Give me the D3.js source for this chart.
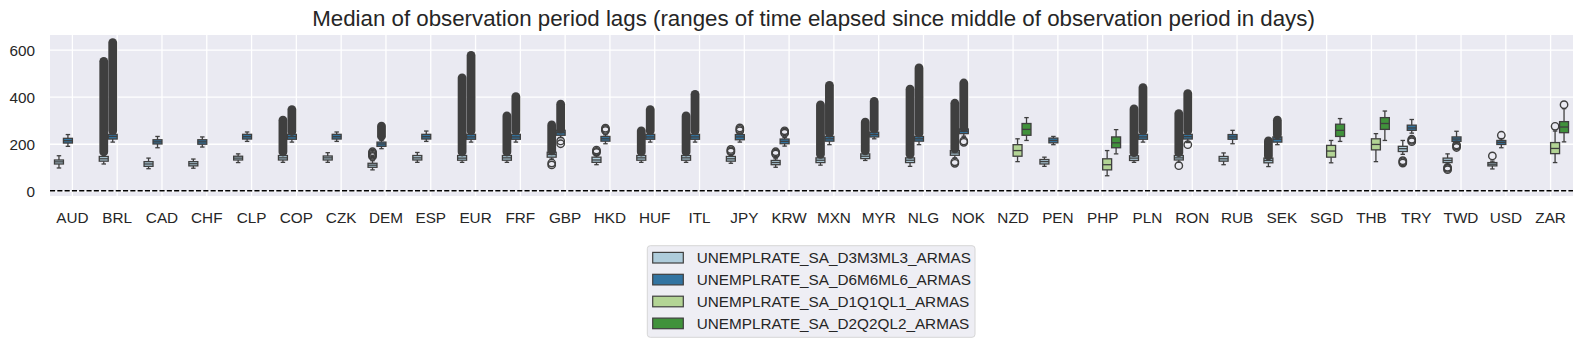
<!DOCTYPE html>
<html><head><meta charset="utf-8">
<script src="https://cdn.jsdelivr.net/npm/d3@7"></script>
<style>
body{margin:0;background:#fff;}
text{font-family:"Liberation Sans",Arial,sans-serif;fill:#262626;}
</style>
</head><body>
<svg id="c" width="1584" height="347"></svg>
<script>
const categories = ["AUD","BRL","CAD","CHF","CLP","COP","CZK","DEM","ESP","EUR","FRF","GBP","HKD","HUF","ITL","JPY","KRW","MXN","MYR","NLG","NOK","NZD","PEN","PHP","PLN","RON","RUB","SEK","SGD","THB","TRY","TWD","USD","ZAR"];
const seriesNames = ["UNEMPLRATE_SA_D3M3ML3_ARMAS","UNEMPLRATE_SA_D6M6ML6_ARMAS","UNEMPLRATE_SA_D1Q1QL1_ARMAS","UNEMPLRATE_SA_D2Q2QL2_ARMAS"];
const seriesColors = ["#aeccdb","#3274a1","#b3d495","#40923b"];
const yTicks = [0,200,400,600];
const titleText = "Median of observation period lags (ranges of time elapsed since middle of observation period in days)";

// box stats: [category, whiskerLow, q1, median, q3, whiskerHigh]
const boxesD3M3ML3 = [
 ["AUD",97,114,123,131,149],["BRL",114,126,136,146,158],["CAD",94,104,114,124,139],["CHF",96,106,115,124,135],
 ["CLP",120,131,139,147,157],["COP",121,131,140,150,160],["CZK",121,131,140,148,162],["DEM",89,100,109,117,128],
 ["ESP",121,131,140,150,163],["EUR",121,130,139,150,160],["FRF",121,130,140,150,160],["GBP",135,143,154,164,168],
 ["HKD",111,121,131,143,150],["HUF",121,130,140,150,160],["ITL",121,130,140,150,160],["JPY",117,126,136,146,152],
 ["KRW",100,111,120,129,136],["MXN",109,120,130,140,150],["MYR",129,137,147,157,165],["NLG",104,120,130,140,150],
 ["NOK",140,151,161,171,175],["PEN",104,114,124,133,143],["PLN",121,129,139,149,158],["RON",121,131,140,150,158],
 ["RUB",111,126,136,146,161],["SEK",103,119,129,139,143],["TRY",155,167,179,189,214],["TWD",112,120,129,139,157],
 ["USD",93,106,113,120,126]
];
const boxesD6M6ML6 = [
 ["AUD",189,203,213,223,239],["BRL",207,220,231,240,250],["CAD",183,199,208,217,231],["CHF",186,198,208,217,229],
 ["CLP",210,220,230,240,250],["COP",207,219,230,240,248],["CZK",210,220,230,240,250],["DEM",179,189,199,207,214],
 ["ESP",210,220,230,240,254],["EUR",207,219,229,240,250],["FRF",207,219,229,240,250],["GBP",226,236,247,257,260],
 ["HKD",200,211,221,231,238],["HUF",207,219,229,240,250],["ITL",207,219,229,240,250],["JPY",207,217,229,239,245],
 ["KRW",190,200,210,220,226],["MXN",196,211,221,231,240],["MYR",221,229,239,249,258],["NLG",196,211,221,231,240],
 ["NOK",232,243,253,263,266],["PEN",196,204,214,224,231],["PLN",207,219,229,240,250],["RON",205,220,230,240,250],
 ["RUB",200,219,229,239,257],["SEK",196,207,219,229,233],["TRY",245,257,267,279,303],["TWD",203,210,220,229,253],
 ["USD",183,197,206,214,222]
];
const boxesD1Q1QL1 = [
 ["NZD",124,147,171,196,221],["PHP",64,89,111,136,171],["SGD",119,143,169,193,214],["THB",124,174,197,221,243],["ZAR",120,158,180,205,254]
];
const boxesD2Q2QL2 = [
 ["NZD",214,236,261,286,311],["PHP",157,183,204,229,260],["SGD",210,231,257,283,307],["THB",214,261,286,311,339],["ZAR",208,247,271,294,349]
];
// dense runs of outliers: [category, lowest, highest]
const runsD3M3ML3 = [
 ["BRL",165,550],["COP",165,300],["EUR",165,480],["FRF",165,318],["GBP",170,280],["HUF",165,255],["ITL",165,318],
 ["MXN",155,365],["MYR",170,292],["NLG",155,432],["NOK",178,372],["PLN",162,348],["RON",162,328],["SEK",148,212]
];
const runsD6M6ML6 = [
 ["BRL",255,630],["COP",252,345],["DEM",232,275],["EUR",255,575],["FRF",255,400],["GBP",262,368],["HUF",255,345],
 ["ITL",255,410],["MXN",245,448],["MYR",262,380],["NLG",245,522],["NOK",268,458],["PLN",255,438],["RON",255,413],["SEK",238,300]
];
// single outliers: [category, value]
const fliersD3M3ML3 = [
 ["DEM",146],["DEM",151],["DEM",156],["DEM",161],["DEM",166],["GBP",110],["GBP",118],
 ["HKD",163],["HKD",168],["HKD",173],["JPY",165],["JPY",170],["JPY",176],["KRW",156],["KRW",161],["KRW",166],
 ["NOK",117],["NOK",123],["RON",107],["TRY",118],["TRY",123],["TRY",128],["TWD",90],["TWD",95],["TWD",100],["USD",148]
];
const fliersD6M6ML6 = [
 ["GBP",200],["GBP",212],["HKD",256],["HKD",261],["HKD",266],["JPY",255],["JPY",261],["JPY",267],
 ["KRW",245],["KRW",250],["KRW",255],["NOK",206],["NOK",212],["RON",196],["TRY",209],["TRY",214],["TRY",219],
 ["TWD",184],["TWD",190],["TWD",195],["USD",236]
];
const fliersD1Q1QL1 = [["ZAR",274]];
const fliersD2Q2QL2 = [["ZAR",366]];

const boxSets = [boxesD3M3ML3, boxesD6M6ML6, boxesD1Q1QL1, boxesD2Q2QL2];
const runSets = [runsD3M3ML3, runsD6M6ML6, [], []];
const flierSets = [fliersD3M3ML3, fliersD6M6ML6, fliersD1Q1QL1, fliersD2Q2QL2];

const L = 50, R = 1573, T = 35, B = 196;
const lineCol = "#3f3f3f";
const svg = d3.select("#c");

const x = d3.scaleBand().domain(categories).range([L, R]).padding(0);
const step = x.step();
const sub = d3.scaleBand().domain(seriesNames).range([0.1*step, 0.9*step]).padding(0);
const y = d3.scaleLinear().domain([-22, 662]).range([B, T]);

svg.append("rect").attr("x", L).attr("y", T).attr("width", R-L).attr("height", B-T).attr("fill", "#eaeaf2");

// grid
const gx = svg.append("g").attr("transform", `translate(0,${B})`)
  .call(d3.axisBottom(x).tickSize(-(B-T)).tickFormat(""));
gx.select(".domain").remove();
gx.selectAll("line").attr("stroke", "#fff").attr("stroke-width", 1.3);
const gy = svg.append("g").attr("transform", `translate(${L},0)`)
  .call(d3.axisLeft(y).tickValues(yTicks).tickSize(-(R-L)).tickFormat(""));
gy.select(".domain").remove();
gy.selectAll("line").attr("stroke", "#fff").attr("stroke-width", 1.3);

// tick labels
const ax = svg.append("g").attr("transform", `translate(0,${B})`)
  .call(d3.axisBottom(x).tickSize(0).tickPadding(16));
ax.select(".domain").remove();
ax.selectAll("text").attr("font-size", "15.3px").attr("fill", "#262626").attr("font-family", null);
const ay = svg.append("g").attr("transform", `translate(${L},0)`)
  .call(d3.axisLeft(y).tickValues(yTicks).tickSize(0).tickPadding(15));
ay.select(".domain").remove();
ay.selectAll("text").attr("font-size", "15.3px").attr("fill", "#262626").attr("font-family", null).attr("dy", "0.36em");

// zero line
svg.append("line").attr("x1", L).attr("x2", R).attr("y1", y(0)).attr("y2", y(0))
  .attr("stroke", "#000").attr("stroke-width", 1.4).attr("stroke-dasharray", "5.1 2.2");

// boxes
const bw = sub.bandwidth();
const fr = 3.7, fsw = 1.4, FR = fr + fsw/2;
boxSets.forEach((rows, si) => {
  const g = svg.append("g");
  const off = sub(seriesNames[si]) + bw/2;
  rows.forEach(([c, lo, q1, md, q3, hi]) => {
    const cx = x(c) + off;
    g.append("line").attr("x1", cx).attr("x2", cx).attr("y1", y(lo)).attr("y2", y(q1)).attr("stroke", lineCol).attr("stroke-width", 1.3);
    g.append("line").attr("x1", cx).attr("x2", cx).attr("y1", y(q3)).attr("y2", y(hi)).attr("stroke", lineCol).attr("stroke-width", 1.3);
    [lo, hi].forEach(v => g.append("line").attr("x1", cx - bw/4).attr("x2", cx + bw/4).attr("y1", y(v)).attr("y2", y(v)).attr("stroke", lineCol).attr("stroke-width", 1.3));
    g.append("rect").attr("x", cx - bw/2).attr("width", bw).attr("y", y(q3)).attr("height", y(q1) - y(q3))
      .attr("fill", seriesColors[si]).attr("stroke", lineCol).attr("stroke-width", 1.3);
    g.append("line").attr("x1", cx - bw/2).attr("x2", cx + bw/2).attr("y1", y(md)).attr("y2", y(md)).attr("stroke", lineCol).attr("stroke-width", 1.3);
  });
  runSets[si].forEach(([c, lo, hi]) => {
    const cx = x(c) + off;
    g.append("rect").attr("x", cx - FR).attr("width", 2*FR).attr("y", y(hi) - FR).attr("height", y(lo) - y(hi) + 2*FR)
      .attr("rx", FR).attr("fill", lineCol);
  });
  flierSets[si].forEach(([c, v]) => {
    g.append("circle").attr("cx", x(c) + off).attr("cy", y(v)).attr("r", fr)
      .attr("fill", "none").attr("stroke", lineCol).attr("stroke-width", fsw);
  });
});

// title
svg.append("text").attr("x", (L+R)/2 + 2).attr("y", 26).attr("text-anchor", "middle").attr("font-size", "22.3px").text(titleText);

// legend
const lg = svg.append("g");
lg.append("rect").attr("x", 647.3).attr("y", 245.7).attr("width", 327.7).attr("height", 91.6).attr("rx", 3)
  .attr("fill", "#eeeef4").attr("stroke", "#d6d6d6").attr("stroke-width", 1);
seriesNames.forEach((n, i) => {
  const cy = 257.7 + i*21.9;
  lg.append("rect").attr("x", 652.7).attr("y", cy - 5.3).attr("width", 30.6).attr("height", 10.6)
    .attr("fill", seriesColors[i]).attr("stroke", lineCol).attr("stroke-width", 1.2);
  lg.append("text").attr("x", 696.7).attr("y", cy + 5.4).attr("font-size", "15.3px").text(n);
});
</script>
</body></html>
